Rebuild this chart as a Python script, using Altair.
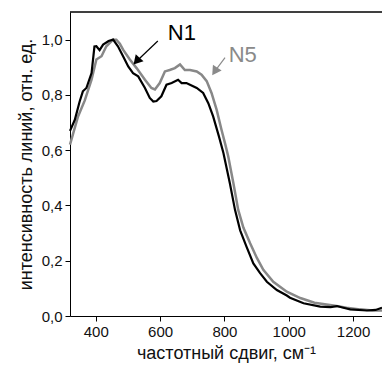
import altair as alt
import pandas as pd

# ---- data ----
shift_n1 = [320, 335, 350, 360, 371, 387, 396, 402, 412, 423, 440, 454, 469, 485, 501, 516, 532,
            553, 568, 579, 589, 604, 620, 636, 656, 667, 682, 693, 714, 734, 750, 765, 783, 797,
            817, 833, 849, 869, 890, 911, 932, 963, 994, 1004, 1046, 1098, 1130, 1150, 1170, 1191,
            1243, 1270, 1290]
int_n1 = [0.67, 0.71, 0.776, 0.813, 0.825, 0.879, 0.975, 0.976, 0.962, 0.982, 0.995, 1.0, 0.976,
          0.94, 0.903, 0.879, 0.867, 0.825, 0.789, 0.776, 0.778, 0.795, 0.837, 0.843, 0.855, 0.843,
          0.843, 0.837, 0.825, 0.807, 0.77, 0.722, 0.65, 0.59, 0.48, 0.384, 0.31, 0.25, 0.19,
          0.155, 0.124, 0.094, 0.074, 0.066, 0.046, 0.034, 0.032, 0.036, 0.03, 0.024, 0.02,
          0.022, 0.03]

shift_n5 = [320, 345, 366, 387, 402, 418, 433, 454, 464, 475, 485, 506, 527, 553, 573, 584, 599,
            615, 630, 646, 662, 677, 693, 714, 729, 745, 760, 776, 791, 803, 812, 828, 843, 859,
            880, 901, 921, 952, 994, 1036, 1080, 1139, 1180, 1222, 1260, 1290]
int_n5 = [0.62, 0.722, 0.78, 0.855, 0.928, 0.94, 0.976, 1.0, 1.0, 0.985, 0.964, 0.928, 0.897,
          0.855, 0.825, 0.82, 0.843, 0.885, 0.89, 0.897, 0.91, 0.89, 0.89, 0.885, 0.873, 0.85,
          0.807, 0.746, 0.674, 0.62, 0.577, 0.48, 0.384, 0.32, 0.263, 0.21, 0.167, 0.124, 0.088,
          0.065, 0.048, 0.038, 0.03, 0.024, 0.02, 0.02]

label_names = ["N1", "N5"]
label_x = [668, 857]
label_y = [1.024, 0.946]
label_colors = ["#000000", "#8a8a8a"]

arrow_x_from = [593, 802]
arrow_y_from = [0.995, 0.935]
arrow_x_to = [527, 770]
arrow_y_to = [0.922, 0.885]
arrow_angle = [222, 214]

x_tick_values = [400, 500, 600, 700, 800, 900, 1000, 1100, 1200]
y_tick_values = [0.0, 0.1, 0.2, 0.3, 0.4, 0.5, 0.6, 0.7, 0.8, 0.9, 1.0]

FONT = "Liberation Sans"

df1 = pd.DataFrame({"shift": shift_n1, "intensity": int_n1, "sample": "N1",
                    "order": range(len(shift_n1))})
df5 = pd.DataFrame({"shift": shift_n5, "intensity": int_n5, "sample": "N5",
                    "order": range(len(shift_n5))})

labels_df = pd.DataFrame({"name": label_names, "x": label_x, "y": label_y, "color": label_colors})
shaft_df = pd.DataFrame({
    "name": label_names * 2,
    "x": arrow_x_from + arrow_x_to,
    "y": arrow_y_from + arrow_y_to,
    "color": label_colors * 2,
})
head_df = pd.DataFrame({"name": label_names, "x": arrow_x_to, "y": arrow_y_to,
                        "angle": arrow_angle, "color": label_colors})

x_scale = alt.Scale(domain=[320, 1290], nice=False, zero=False)
y_scale = alt.Scale(domain=[0, 1.1], nice=False)

x_axis = alt.Axis(
    values=x_tick_values, format="d",
    labelExpr="datum.value % 200 == 0 ? datum.label : ''",
    tickSize={"condition": {"test": "datum.value % 200 == 0", "value": 5}, "value": 3},
    grid=False, domainColor="black", tickColor="black", labelColor="#111111",
    labelFont=FONT, labelFontSize=15, labelPadding=3,
    title="частотный сдвиг, см⁻¹", titleFont=FONT, titleFontSize=18,
    titleFontWeight="normal", titleColor="#111111", titlePadding=5,
)
y_axis = alt.Axis(
    values=y_tick_values,
    labelExpr="round(datum.value*10) % 2 == 0 ? replace(format(datum.value, '.1f'), '.', ',') : ''",
    tickSize={"condition": {"test": "round(datum.value*10) % 2 == 0", "value": 5}, "value": 3},
    grid=False, domainColor="black", tickColor="black", labelColor="#111111",
    labelFont=FONT, labelFontSize=15, labelPadding=3,
    title="интенсивность линий, отн. ед.", titleFont=FONT, titleFontSize=18,
    titleFontWeight="normal", titleColor="#111111", titlePadding=6,
)

n5_line = alt.Chart(df5).mark_line(color="#888888", strokeWidth=2.5).encode(
    x=alt.X("shift:Q", scale=x_scale, axis=x_axis),
    y=alt.Y("intensity:Q", scale=y_scale, axis=y_axis),
    order="order:Q",
)
n1_line = alt.Chart(df1).mark_line(color="#000000", strokeWidth=2.2).encode(
    x=alt.X("shift:Q", scale=x_scale),
    y=alt.Y("intensity:Q", scale=y_scale),
    order="order:Q",
)

shafts = alt.Chart(shaft_df).mark_line(strokeWidth=1.2).encode(
    x=alt.X("x:Q", scale=x_scale),
    y=alt.Y("y:Q", scale=y_scale),
    detail="name:N",
    color=alt.Color("color:N", scale=None, legend=None),
)
heads = alt.Chart(head_df).mark_point(shape="triangle-up", filled=True, size=110, opacity=1).encode(
    x=alt.X("x:Q", scale=x_scale),
    y=alt.Y("y:Q", scale=y_scale),
    angle=alt.Angle("angle:Q", scale=None),
    color=alt.Color("color:N", scale=None, legend=None),
)
texts = alt.Chart(labels_df).mark_text(font=FONT, fontSize=22, align="center",
                                       baseline="middle").encode(
    x=alt.X("x:Q", scale=x_scale),
    y=alt.Y("y:Q", scale=y_scale),
    text="name:N",
    color=alt.Color("color:N", scale=None, legend=None),
)
top_line = alt.Chart(labels_df).mark_rule(color="black", strokeWidth=1).encode(
    y=alt.value(0)
)

chart = alt.layer(n5_line, n1_line, shafts, heads, texts, top_line).properties(
    width=312, height=304,
    padding={"left": 70, "top": 12, "right": 0, "bottom": 56},
    autosize=alt.AutoSizeParams(type="none"),
    background="white",
).configure_view(stroke=None)

chart.save("out.html", embed_options={"renderer": "svg", "actions": False})
